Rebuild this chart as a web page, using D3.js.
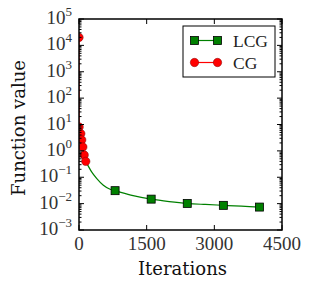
<!DOCTYPE html>
<html>
<head>
<meta charset="utf-8">
<script src="https://cdn.jsdelivr.net/npm/d3@7"></script>
<style>
  html, body { margin: 0; padding: 0; background: #fff; }
  svg { display: block; }
</style>
</head>
<body>
<svg id="chart" width="314" height="291"></svg>
<script>
// ---- data ----
const cgIter = [0, 3, 40, 60, 85, 115, 150];
const cgValue = [20000, 8, 4.5, 2.6, 1.4, 0.7, 0.4];

const lcgMarkerIter = [800, 1600, 2400, 3200, 4000];
const lcgMarkerValue = [0.031, 0.0148, 0.0102, 0.0086, 0.0074];

const lcgCurveIter = [150, 280, 390, 540, 690, 800, 1200, 1600, 2000, 2400, 2800, 3200, 3600, 4000];
const lcgCurveValue = [0.4, 0.16, 0.091, 0.05, 0.035, 0.031, 0.02, 0.0148, 0.012, 0.0102, 0.0093, 0.0086, 0.008, 0.0074];

const xTicks = [0, 1500, 3000, 4500];
const yExponents = [-3, -2, -1, 0, 1, 2, 3, 4, 5];
const legendLabels = ["LCG", "CG"];

// ---- layout ----
const svg = d3.select("#chart");
const pL = 79, pR = 282, pT = 19, pB = 230;

const x = d3.scaleLinear().domain([0, 4500]).range([pL, pR]);
const y = d3.scaleLog().domain([1e-3, 1e5]).range([pB, pT]);

const green = "#008000", red = "#ff0000";
const tickFont = "Liberation Serif";

// clip
svg.append("defs").append("clipPath").attr("id", "clip")
  .append("rect").attr("x", pL).attr("y", pT).attr("width", pR - pL).attr("height", pB - pT);

const plot = svg.append("g").attr("clip-path", "url(#clip)");

// LCG curve
const line = d3.line().x(d => x(d[0])).y(d => y(d[1])).curve(d3.curveMonotoneX);
plot.append("path")
  .datum(lcgCurveIter.map((v, i) => [v, lcgCurveValue[i]]))
  .attr("d", line).attr("fill", "none").attr("stroke", green).attr("stroke-width", 1.2);

// CG line
const lineLin = d3.line().x(d => x(d[0])).y(d => y(d[1]));
plot.append("path")
  .datum(cgIter.map((v, i) => [v, cgValue[i]]))
  .attr("d", lineLin).attr("fill", "none").attr("stroke", red).attr("stroke-width", 1.2);

// LCG markers
const sq = 8;
plot.selectAll("rect.lcg").data(lcgMarkerIter.map((v, i) => [v, lcgMarkerValue[i]]))
  .enter().append("rect").attr("class", "lcg")
  .attr("x", d => x(d[0]) - sq / 2).attr("y", d => y(d[1]) - sq / 2)
  .attr("width", sq).attr("height", sq)
  .attr("fill", green).attr("stroke", "#000").attr("stroke-width", 0.8);

// CG markers
plot.selectAll("circle.cg").data(cgIter.map((v, i) => [v, cgValue[i]]))
  .enter().append("circle").attr("class", "cg")
  .attr("cx", d => x(d[0])).attr("cy", d => y(d[1])).attr("r", 4.2)
  .attr("fill", red).attr("stroke", "#800000").attr("stroke-width", 0.5);

// ---- ticks (inside, all four sides) ----
const ticksG = svg.append("g").attr("stroke", "#000").attr("stroke-width", 1);
const majorLen = 5, minorLen = 2.5;

xTicks.forEach(t => {
  const px = x(t);
  ticksG.append("line").attr("x1", px).attr("x2", px).attr("y1", pB).attr("y2", pB - majorLen);
  ticksG.append("line").attr("x1", px).attr("x2", px).attr("y1", pT).attr("y2", pT + majorLen);
});

yExponents.forEach(e => {
  const py = y(Math.pow(10, e));
  ticksG.append("line").attr("x1", pL).attr("x2", pL + majorLen).attr("y1", py).attr("y2", py);
  ticksG.append("line").attr("x1", pR).attr("x2", pR - majorLen).attr("y1", py).attr("y2", py);
  if (e < 5) {
    for (let m = 2; m <= 9; m++) {
      const pm = y(m * Math.pow(10, e));
      ticksG.append("line").attr("x1", pL).attr("x2", pL + minorLen).attr("y1", pm).attr("y2", pm);
      ticksG.append("line").attr("x1", pR).attr("x2", pR - minorLen).attr("y1", pm).attr("y2", pm);
    }
  }
});

// frame
svg.append("rect").attr("x", pL).attr("y", pT).attr("width", pR - pL).attr("height", pB - pT)
  .attr("fill", "none").attr("stroke", "#000").attr("stroke-width", 1.5);

// ---- tick labels ----
xTicks.forEach(t => {
  svg.append("text").attr("x", x(t)).attr("y", 250)
    .attr("text-anchor", "middle").attr("font-family", tickFont).attr("font-size", 19)
    .attr("fill", "#333").text(t);
});

yExponents.forEach(e => {
  const py = y(Math.pow(10, e));
  const t = svg.append("text").attr("x", 72).attr("y", py + 5)
    .attr("text-anchor", "end").attr("font-family", tickFont).attr("font-size", 19).attr("fill", "#333");
  t.append("tspan").text("10");
  t.append("tspan").attr("dy", -8).attr("font-size", 13).text(e < 0 ? "\u2212" + Math.abs(e) : String(e));
});

// ---- axis labels ----
svg.append("text").attr("x", (pL + pR) / 2 + 2).attr("y", 275)
  .attr("text-anchor", "middle").attr("font-family", "DejaVu Serif").attr("font-size", 18)
  .attr("fill", "#111").text("Iterations");

svg.append("text").attr("transform", "translate(25,128) rotate(-90)")
  .attr("text-anchor", "middle").attr("font-family", "DejaVu Serif").attr("font-size", 18)
  .attr("fill", "#111").text("Function value");

// ---- legend ----
const lg = svg.append("g");
lg.append("rect").attr("x", 183).attr("y", 26).attr("width", 92).attr("height", 51)
  .attr("fill", "#fff").attr("stroke", "#000").attr("stroke-width", 1);

const rows = [40.5, 62.5];
const colors = [green, red];
legendLabels.forEach((lab, i) => {
  const yy = rows[i];
  lg.append("line").attr("x1", 194.5).attr("x2", 217.5).attr("y1", yy).attr("y2", yy)
    .attr("stroke", colors[i]).attr("stroke-width", 1.2);
  [194.5, 217.5].forEach(cx => {
    if (i === 0) {
      lg.append("rect").attr("x", cx - sq / 2).attr("y", yy - sq / 2).attr("width", sq).attr("height", sq)
        .attr("fill", green).attr("stroke", "#000").attr("stroke-width", 0.8);
    } else {
      lg.append("circle").attr("cx", cx).attr("cy", yy).attr("r", 4.2)
        .attr("fill", red).attr("stroke", "#800000").attr("stroke-width", 0.5);
    }
  });
  lg.append("text").attr("x", 233).attr("y", yy + 6).attr("font-family", tickFont)
    .attr("font-size", 17.5).attr("fill", "#222").text(lab);
});
</script>
</body>
</html>
